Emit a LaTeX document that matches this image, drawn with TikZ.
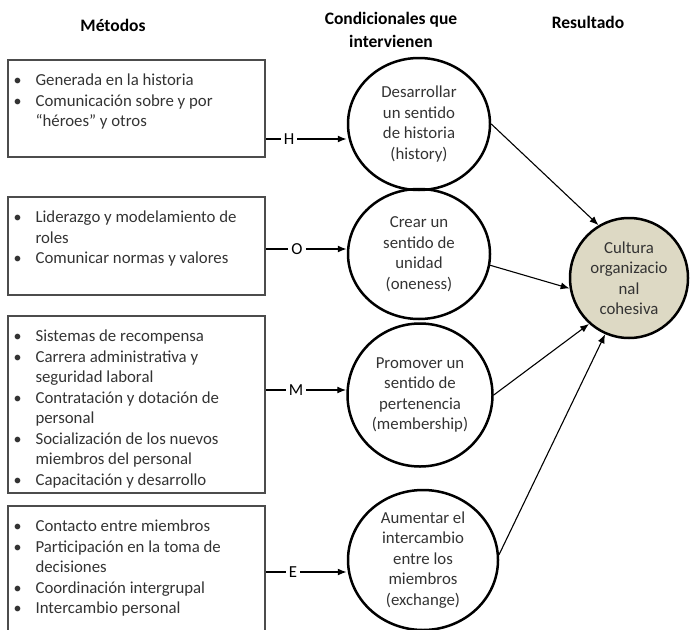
\documentclass[tikz,border=0pt]{standalone}
\usepackage{fontspec}
\setmainfont{Carlito}
\usepackage{tikz}
\usetikzlibrary{arrows,arrows.meta,positioning,shapes.geometric}
\definecolor{tan}{RGB}{221,217,196}
\newcommand{\pto}{{\fontsize{16}{16}\selectfont\textbullet}}

\begin{document}
\begin{tikzpicture}[
		x=1pt, y=-1pt,
		>={Latex[length=9pt,width=7pt]},
		font=\fontsize{16.8}{20.5}\selectfont,
		metodo/.style={
			rectangle,
			draw=black!70,
			line width=1.3pt,
			minimum width=257pt,
			inner sep=0pt
		},
		items/.style={
			anchor=north west,
			inner sep=0pt,
			text=black!80
		},
		cond/.style={
			ellipse,
			draw=black,
			line width=2.5pt,
			inner sep=0pt,
			align=center,
			text=black!80
		},
		letra/.style={
			inner sep=3pt
		},
		head/.style={
			font=\fontsize{17.5}{23.5}\selectfont\bfseries,
			align=center
		}
		]
		\useasboundingbox (0,0) rectangle (690,629);
		\clip (0,0) rectangle (690,629);
		
		% headers
		\node [head] (hmet) at (113,25) {Métodos};
		\node [head] (hcond) at (391,30) {Condicionales que\\intervienen};
		\node [head] (hres) at (588,22) {Resultado};
		
		% method boxes
		\node [metodo, minimum height=97pt] (box1) at (136.5,108.5) {};
		\node [metodo, minimum height=98pt] (box2) at (136.5,246) {};
		\node [metodo, minimum height=177pt] (box3) at (136.5,404.5) {};
		\node [metodo, minimum height=140pt] (box4) at (136.5,576) {};
		
		\node [items] (txt1) at ([shift={(6,12)}]box1.north west)
		{%
			\begin{tabular}{@{}p{22pt}@{}l@{}}
			\pto & Generada en la historia\\
			\pto & Comunicación sobre y por\\
			& “héroes” y otros
			\end{tabular}
		};
		
		\node [items] (txt2) at ([shift={(6,12)}]box2.north west)
		{%
			\begin{tabular}{@{}p{22pt}@{}l@{}}
			\pto & Liderazgo y modelamiento de\\
			& roles\\
			\pto & Comunicar normas y valores
			\end{tabular}
		};
		
		\node [items] (txt3) at ([shift={(6,12)}]box3.north west)
		{%
			\begin{tabular}{@{}p{22pt}@{}l@{}}
			\pto & Sistemas de recompensa\\
			\pto & Carrera administrativa y\\
			& seguridad laboral\\
			\pto & Contratación y dotación de\\
			& personal\\
			\pto & Socialización de los nuevos\\
			& miembros del personal\\
			\pto & Capacitación y desarrollo
			\end{tabular}
		};
		
		\node [items] (txt4) at ([shift={(6,12)}]box4.north west)
		{%
			\begin{tabular}{@{}p{22pt}@{}l@{}}
			\pto & Contacto entre miembros\\
			\pto & Participación en la toma de\\
			& decisiones\\
			\pto & Coordinación intergrupal\\
			\pto & Intercambio personal
			\end{tabular}
		};
		
		% conditions
		\node [cond, minimum width=142pt, minimum height=132pt] (condH) at (419,124)
		{Desarrollar\\un sentido\\de historia\\(history)};
		\node [cond, minimum width=142pt, minimum height=130pt] (condO) at (419,254)
		{Crear un\\sentido de\\unidad\\(oneness)};
		\node [cond, minimum width=145pt, minimum height=143pt] (condM) at (420,395)
		{Promover un\\sentido de\\pertenencia\\(membership)};
		\node [cond, minimum width=150pt, minimum height=140pt] (condE) at (423,560)
		{Aumentar el\\intercambio\\entre los\\miembros\\(exchange)};
		
		% result
		\node [cond, fill=tan, minimum width=118pt, minimum height=120pt] (res) at (629,278)
		{Cultura\\organizacio\\nal\\cohesiva};
		
		% letters
		\node [letra] (lblH) at (289,139) {H};
		\node [letra] (lblO) at (297,249) {O};
		\node [letra] (lblM) at (296,390) {M};
		\node [letra] (lblE) at (293,572) {E};
		
		\draw [line width=1.2pt] (lblH.west) -- (lblH.west -| box1.east);
		\draw [line width=1.2pt] (lblO.west) -- (lblO.west -| box2.east);
		\draw [line width=1.2pt] (lblM.west) -- (lblM.west -| box3.east);
		\draw [line width=1.2pt] (lblE.west) -- (lblE.west -| box4.east);
		
		\draw [->, line width=1.4pt] (lblH.east) -- (lblH.east -| condH.west);
		\draw [->, line width=1.4pt] (lblO.east) -- (lblO.east -| condO.west);
		\draw [->, line width=1.4pt] (lblM.east) -- (lblM.east -| condM.west);
		\draw [->, line width=1.4pt] (lblE.east) -- (lblE.east -| condE.west);
		
		\draw [->, line width=1.1pt] (condH.east) -- (res.120);
		\draw [->, line width=1.1pt] (condO.-9) -- (res.190);
		\draw [->, line width=1.1pt] (condM.east) -- (res.229);
		\draw [->, line width=1.1pt] (condE.4) -- (res.247);
		
\end{tikzpicture}
\end{document}
